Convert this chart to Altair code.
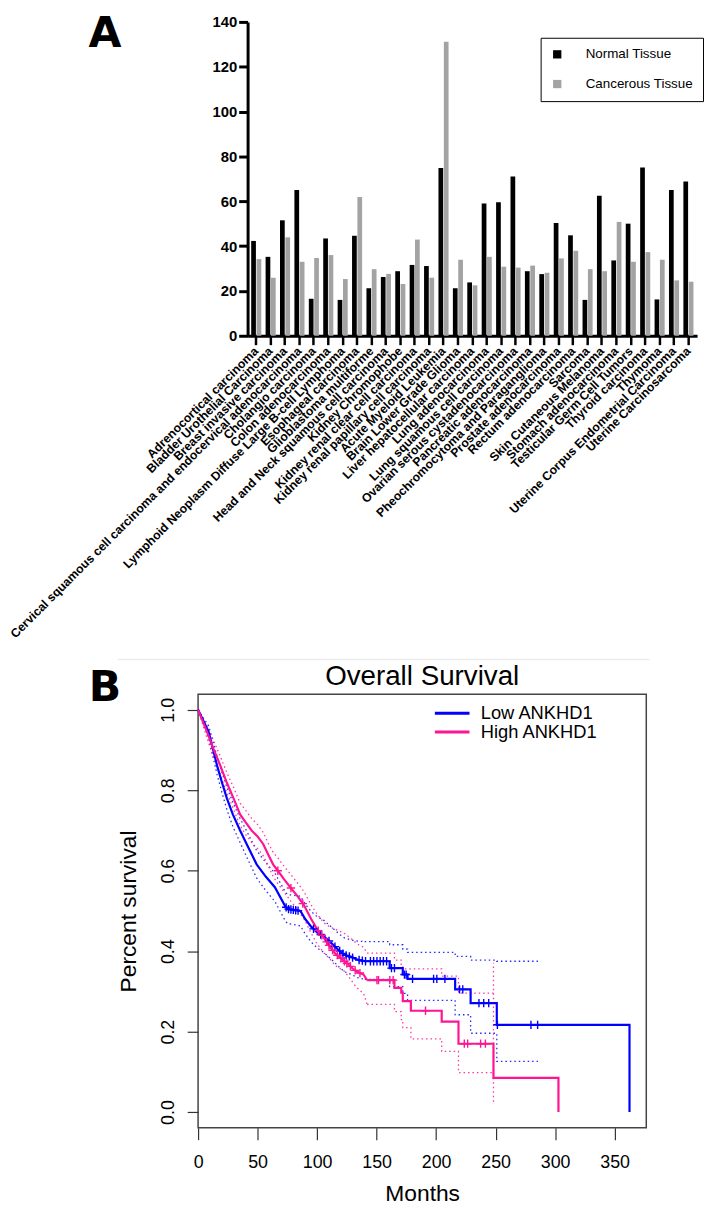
import altair as alt
import pandas as pd
import numpy as np

# ---------------- Panel A data ----------------
cancers = [
    "Adrenocortical carcinoma",
    "Bladder Urothelial Carcinoma",
    "Breast invasive carcinoma",
    "Cervical squamous cell carcinoma and endocervical adenocarcinoma",
    "Cholangio carcinoma",
    "Colon adenocarcinoma",
    "Lymphoid Neoplasm Diffuse Large B-cell Lymphoma",
    "Esophageal carcinoma",
    "Glioblastoma multiforme",
    "Head and Neck squamous cell carcinoma",
    "Kidney Chromophobe",
    "Kidney renal clear cell carcinoma",
    "Kidney renal papillary cell carcinoma",
    "Acute Myeloid Leukemia",
    "Brain Lower Grade Glioma",
    "Liver hepatocellular carcinoma",
    "Lung adenocarcinoma",
    "Lung squamous cell carcinoma",
    "Ovarian serous cystadenocarcinoma",
    "Pancreatic adenocarcinoma",
    "Pheochromocytoma and Paraganglioma",
    "Prostate adenocarcinoma",
    "Rectum adenocarcinoma",
    "Sarcoma",
    "Skin Cutaneous Melanoma",
    "Stomach adenocarcinoma",
    "Testicular Germ Cell Tumors",
    "Thyroid carcinoma",
    "Thymoma",
    "Uterine Corpus Endometrial Carcinoma",
    "Uterine Carcinosarcoma",
]
normal_vals = [42.3, 35.2, 51.5, 65.0, 16.5, 43.4, 16.0, 44.6, 21.2, 26.2, 28.8,
               31.6, 31.1, 74.8, 21.2, 23.8, 59.0, 59.6, 71.0, 28.8, 27.5, 50.3,
               44.8, 16.0, 62.5, 33.6, 50.0, 75.1, 16.2, 65.0, 68.8]
cancer_vals = [34.2, 25.9, 43.9, 33.0, 34.7, 36.0, 25.3, 61.9, 29.7, 27.6, 23.1,
               42.9, 25.9, 131.1, 33.9, 22.5, 35.2, 30.8, 30.4, 31.3, 28.1, 34.5,
               37.9, 29.7, 28.8, 50.8, 33.0, 37.3, 33.9, 24.7, 24.1]
tissues = ["Normal Tissue", "Cancerous Tissue"]
tissue_colors = ["#000000", "#a3a3a3"]
bar_ticks = [0, 20, 40, 60, 80, 100, 120, 140]
panel_letters = ["A", "B"]

# ---------------- Panel B data ----------------
groups = ["Low ANKHD1", "High ANKHD1"]
group_colors = ["#0000ff", "#ff1493"]

low_t = [0, 8.9, 15.9, 20, 24.2, 29.2, 35.3, 40.9, 49.2, 57, 64.5, 72.8, 75, 86, 90,
         95, 100, 106, 112, 118, 123, 129, 134, 140, 161, 172, 176, 216, 229, 251, 362.5]
low_s = [1.0, 0.945, 0.862, 0.82, 0.78, 0.74, 0.70, 0.666, 0.616, 0.585, 0.559, 0.514,
         0.505, 0.50, 0.48, 0.461, 0.447, 0.436, 0.42, 0.403, 0.391, 0.385, 0.379, 0.375,
         0.358, 0.342, 0.331, 0.305, 0.271, 0.217, 0.0]
low_ci_t = [0, 8.9, 15.9, 20, 24.2, 29.2, 35.3, 40.9, 49.2, 57, 64.5, 72.8, 75, 86, 90,
            95, 100, 106, 112, 118, 123, 129, 134, 140, 161, 172, 176, 216, 229, 251, 286]
low_up = [1.0, 0.96, 0.885, 0.845, 0.808, 0.77, 0.73, 0.698, 0.65, 0.62, 0.594, 0.55,
          0.541, 0.537, 0.517, 0.499, 0.486, 0.476, 0.46, 0.444, 0.433, 0.428, 0.425,
          0.424, 0.416, 0.405, 0.397, 0.387, 0.378, 0.375, 0.375]
low_lo = [1.0, 0.93, 0.84, 0.795, 0.752, 0.71, 0.67, 0.634, 0.582, 0.55, 0.524, 0.478,
          0.469, 0.463, 0.443, 0.423, 0.408, 0.396, 0.38, 0.362, 0.349, 0.342, 0.334,
          0.33, 0.312, 0.295, 0.278, 0.242, 0.196, 0.126, 0.126]
low_step_from = 140
low_cens = [74, 76, 78, 80, 82, 84, 97, 103, 110, 115, 119, 121.7, 124.4, 127.1, 129.8,
            135.3, 138, 140.7, 144.8, 147.5, 150.3, 153, 155.7, 158.4, 162.5, 165,
            173.4, 174.8, 180.2, 197.9, 200.6, 207.4, 219.7, 222.4, 236, 240, 244.2,
            251.5, 279.7, 285.3]

high_t = [0, 7.5, 12, 18.6, 24, 29.8, 35.3, 40, 45, 50, 54.8, 59, 63, 67, 72, 78, 84,
          89, 95, 100, 106, 111, 115, 119, 123, 127, 131, 135, 139, 142, 165, 170.7,
          172, 178.8, 204.7, 218.8, 248.2, 302.8]
high_s = [1.0, 0.945, 0.91, 0.862, 0.82, 0.78, 0.74, 0.72, 0.70, 0.685, 0.666, 0.64,
          0.616, 0.60, 0.58, 0.557, 0.535, 0.514, 0.48, 0.455, 0.432, 0.41, 0.395,
          0.385, 0.375, 0.365, 0.354, 0.347, 0.342, 0.328, 0.309, 0.297, 0.276, 0.252,
          0.225, 0.17, 0.085, 0.0]
high_ci_t = [0, 7.5, 12, 18.6, 24, 29.8, 35.3, 40, 45, 50, 54.8, 59, 63, 67, 72, 78, 84,
             89, 95, 100, 106, 111, 115, 119, 123, 127, 131, 135, 139, 142, 165, 170.7,
             172, 178.8, 204.7, 218.8, 248.2]
high_up = [1.0, 0.96, 0.93, 0.885, 0.845, 0.807, 0.768, 0.75, 0.73, 0.715, 0.695, 0.668,
           0.646, 0.632, 0.612, 0.59, 0.568, 0.548, 0.515, 0.492, 0.47, 0.46, 0.455,
           0.45, 0.444, 0.435, 0.425, 0.416, 0.41, 0.395, 0.378, 0.364, 0.356, 0.356,
           0.338, 0.296, 0.296]
high_lo = [1.0, 0.93, 0.89, 0.84, 0.795, 0.753, 0.712, 0.69, 0.67, 0.655, 0.637, 0.612,
           0.586, 0.568, 0.548, 0.524, 0.502, 0.48, 0.445, 0.418, 0.395, 0.38, 0.365,
           0.357, 0.35, 0.335, 0.318, 0.305, 0.295, 0.268, 0.25, 0.23, 0.21, 0.182,
           0.151, 0.098, 0.098]
high_step_from = 142
high_cens = [67, 78, 88, 101, 104, 108, 110, 113, 117, 120, 123, 125, 128, 132, 136,
             150.3, 151.6, 161.1, 163.9, 191.1, 223.7, 226.5, 237.4, 241.4]
high_ci_end = [248.2, 0.026, 0.371]   # time, lower, upper of the final dotted drop

month_ticks = [0, 50, 100, 150, 200, 250, 300, 350]
surv_ticks = [0.0, 0.2, 0.4, 0.6, 0.8, 1.0]

FONT = "Liberation Sans"

# ---------------- Panel A chart ----------------
bars_df = pd.DataFrame({
    "cancer": cancers * 2,
    "tissue": [tissues[0]] * len(cancers) + [tissues[1]] * len(cancers),
    "value": normal_vals + cancer_vals,
})

bars = alt.Chart(bars_df).mark_bar().encode(
    x=alt.X("cancer:N", sort=cancers,
            scale=alt.Scale(paddingInner=0.3, paddingOuter=0.25),
            axis=alt.Axis(title=None, labelAngle=315, labelAlign="right",
                          labelBaseline="middle", labelFont=FONT,
                          labelFontWeight="bold", labelFontSize=12.4,
                          labelColor="black", labelPadding=4, labelLimit=900,
                          labelOverlap=False, domainColor="black", domainWidth=3,
                          tickColor="black", tickWidth=2.5, tickSize=9, grid=False)),
    xOffset=alt.XOffset("tissue:N", sort=tissues,
                        scale=alt.Scale(paddingInner=0.12)),
    y=alt.Y("value:Q", scale=alt.Scale(domain=[0, 140], nice=False),
            axis=alt.Axis(title=None, values=bar_ticks, labelFont=FONT,
                          labelFontWeight="bold", labelFontSize=15,
                          labelColor="black", labelPadding=2, labelFlush=False,
                          domainColor="black", domainWidth=3, tickColor="black",
                          tickWidth=3, tickSize=9, grid=False)),
    color=alt.Color("tissue:N", sort=tissues,
                    scale=alt.Scale(domain=tissues, range=tissue_colors),
                    legend=alt.Legend(orient="none", legendX=346, legendY=16,
                                      title=None, symbolType="square",
                                      symbolSize=70, symbolStrokeWidth=0,
                                      labelFont=FONT, labelFontSize=13.5,
                                      labelColor="black", labelOffset=22,
                                      rowPadding=15, padding=10,
                                      strokeColor="black", fillColor="white")),
)

letters_df = pd.DataFrame({"txt": panel_letters})
letterA = alt.Chart(letters_df).transform_filter(alt.datum.txt == "A").mark_text(
    font="DejaVu Sans", fontWeight="bold", fontSize=43, color="black",
    align="center", baseline="middle"
).encode(text="txt:N", x=alt.value(-144), y=alt.value(12))
letterB = alt.Chart(letters_df).transform_filter(alt.datum.txt == "B").mark_text(
    font="DejaVu Sans", fontWeight="bold", fontSize=43, color="black",
    align="center", baseline="middle"
).encode(text="txt:N", x=alt.value(-144), y=alt.value(673))
separator = alt.Chart(letters_df).transform_filter(alt.datum.txt == "B").mark_rule(
    color="#ececec", strokeWidth=1.5
).encode(x=alt.value(-131), x2=alt.value(406), y=alt.value(644))

panelA = alt.layer(bars, letterA, letterB, separator).properties(
    width=454, height=317, view=alt.ViewBackground(stroke="transparent"))

spacer = alt.Chart(letters_df).mark_point(opacity=0).encode(
    x=alt.value(0), y=alt.value(0)
).properties(width=50, height=10, view=alt.ViewBackground(stroke="transparent"))

rowA = alt.hconcat(spacer, panelA, spacing=0, bounds="flush")

# ---------------- Panel B chart ----------------
def step_value(ts, ss, t):
    val = ss[0]
    for ti, si in zip(ts, ss):
        if ti <= t:
            val = si
    return val

def surv_at(ts, ss, split, t):
    if t <= split:
        return float(np.interp(t, ts, ss))
    return step_value(ts, ss, t)

line_rows, ci_rows, cens_rows = [], [], []
spec = [
    (groups[0], group_colors[0], low_t, low_s, low_ci_t, low_up, low_lo, low_step_from, low_cens),
    (groups[1], group_colors[1], high_t, high_s, high_ci_t, high_up, high_lo, high_step_from, high_cens),
]
for g, col, ts, ss, cts, ups, los, split, cens in spec:
    for i, (t, s) in enumerate(zip(ts, ss)):
        if t <= split:
            line_rows.append({"grp": g, "t": t, "s": s, "seg": "smooth", "o": i})
        if t >= split:
            line_rows.append({"grp": g, "t": t, "s": s, "seg": "step", "o": i})
    for band, vals in (("upper", ups), ("lower", los)):
        for i, (t, v) in enumerate(zip(cts, vals)):
            key = g + " " + band
            if t <= split:
                ci_rows.append({"key": key, "t": t, "s": v, "seg": "smooth", "o": i, "col": col})
            if t >= split:
                ci_rows.append({"key": key, "t": t, "s": v, "seg": "step", "o": i, "col": col})
    for t in cens:
        cens_rows.append({"grp": g, "t": t, "s": surv_at(ts, ss, split, t), "col": col})

line_df = pd.DataFrame(line_rows)
ci_df = pd.DataFrame(ci_rows)
cens_df = pd.DataFrame(cens_rows)
end_df = pd.DataFrame({"t": [high_ci_end[0]], "s": [high_ci_end[1]],
                       "s2": [high_ci_end[2]], "col": [group_colors[1]]})

xB = alt.X("t:Q", scale=alt.Scale(domain=[0, 376.6], nice=False, zero=False),
           axis=alt.Axis(title="Months", values=month_ticks, domain=False, grid=False,
                         tickSize=12, tickColor="#333333", tickWidth=1.2,
                         labelFont=FONT, labelFontSize=18, labelColor="black",
                         labelPadding=14, labelFlush=False,
                         titleFont=FONT, titleFontSize=23, titleFontWeight="normal",
                         titleColor="black", titlePadding=11))
yB = alt.Y("s:Q", scale=alt.Scale(domain=[-0.039, 1.039], nice=False, zero=False),
           axis=alt.Axis(title="Percent survival", values=surv_ticks, format=".1f",
                         domain=False, grid=False, tickSize=11, tickColor="#333333",
                         tickWidth=1.2, labelAngle=270, labelAlign="center",
                         labelBaseline="alphabetic", labelFont=FONT, labelFontSize=18,
                         labelColor="black", labelPadding=14, labelFlush=False,
                         titleFont=FONT, titleFontSize=23, titleFontWeight="normal",
                         titleColor="black", titlePadding=19))

dot = dict(strokeDash=[1.5, 3], strokeWidth=1.3, opacity=0.85)
ci_smooth = alt.Chart(ci_df).transform_filter(alt.datum.seg == "smooth").mark_line(
    interpolate="linear", **dot).encode(
    x=xB, y=yB, detail="key:N", order="o:Q", color=alt.Color("col:N", scale=None))
ci_step = alt.Chart(ci_df).transform_filter(alt.datum.seg == "step").mark_line(
    interpolate="step-after", **dot).encode(
    x=xB, y=yB, detail="key:N", order="o:Q", color=alt.Color("col:N", scale=None))
ci_end = alt.Chart(end_df).mark_rule(**dot).encode(
    x=xB, y=yB, y2="s2:Q", color=alt.Color("col:N", scale=None))

surv_smooth = alt.Chart(line_df).transform_filter(alt.datum.seg == "smooth").mark_line(
    interpolate="linear", strokeWidth=2.2).encode(
    x=xB, y=yB, order="o:Q",
    color=alt.Color("grp:N", sort=groups,
                    scale=alt.Scale(domain=groups, range=group_colors), legend=None))
surv_step = alt.Chart(line_df).transform_filter(alt.datum.seg == "step").mark_line(
    interpolate="step-after", strokeWidth=2.2).encode(
    x=xB, y=yB, order="o:Q",
    color=alt.Color("grp:N", sort=groups,
                    scale=alt.Scale(domain=groups, range=group_colors),
                    legend=alt.Legend(orient="none", legendX=247.4, legendY=10,
                                      title=None, symbolType="M-3,0L3,0",
                                      symbolStrokeWidth=3, symbolSize=136,
                                      labelFont=FONT, labelFontSize=18.5,
                                      labelColor="black", labelOffset=19.6,
                                      rowPadding=0, padding=0)))
censors = alt.Chart(cens_df).mark_point(
    shape="M0,-1L0,1M-1,0L1,0", filled=False, size=70, strokeWidth=1.4, opacity=1
).encode(x=xB, y=yB, color=alt.Color("col:N", scale=None))

panelB = alt.layer(ci_smooth, ci_step, ci_end, surv_smooth, surv_step, censors
).resolve_scale(color="independent").properties(
    width=452.7, height=438,
    title=alt.TitleParams(text="Overall Survival", font=FONT, fontSize=28,
                          fontWeight="normal", color="black", anchor="middle",
                          frame="group", offset=9, baseline="alphabetic", dy=28),
    view=alt.ViewBackground(stroke="#444444", strokeWidth=1.5))

chart = alt.vconcat(rowA, panelB, spacing=679, bounds="flush").resolve_scale(
    color="independent"
).properties(
    padding={"left": -1, "top": -2, "right": 0, "bottom": 0},
    background="white",
)

chart.save("out.html", embed_options={"renderer": "svg", "actions": False})
